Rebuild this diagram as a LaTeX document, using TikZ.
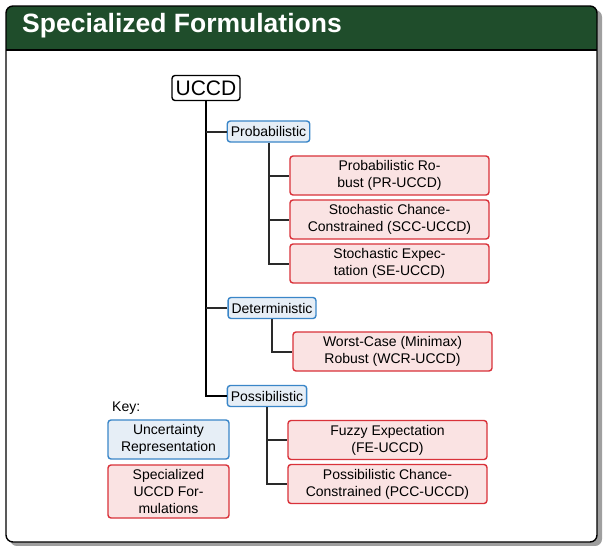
\documentclass[tikz,border=0pt]{standalone}
\usepackage{fontspec}
\setmainfont{Liberation Sans}
\definecolor{titlegreen}{HTML}{1F4D2B}
\definecolor{blueline}{HTML}{3A86C8}
\definecolor{bluefill}{HTML}{E6EEF6}
\definecolor{redline}{HTML}{D9323A}
\definecolor{redfill}{HTML}{FAE3E3}
\definecolor{linkgray}{HTML}{2A2A2A}
\begin{document}
\begin{tikzpicture}[x=1pt,y=-1pt,
  base/.style={rounded corners=3pt, line width=1.4pt, align=center, inner sep=0pt,
    font=\fontsize{14}{17}\selectfont},
  rootbox/.style={base, draw=black, fill=white, minimum width=68pt, minimum height=25pt,
    font=\fontsize{21}{22}\selectfont},
  catbox/.style={base, draw=blueline, fill=bluefill, minimum height=21pt, inner xsep=3.5pt},
  formbox/.style={base, draw=redline, fill=redfill, minimum width=199pt, minimum height=39pt},
  keyblue/.style={base, draw=blueline, fill=bluefill, minimum width=121pt, minimum height=39pt},
  keyred/.style={base, draw=redline, fill=redfill, minimum width=121pt, minimum height=53pt},
  trunk/.style={line width=2pt, draw=black},
  link/.style={line width=2pt, draw=linkgray}
]
\useasboundingbox (0,0) rectangle (605,546);
% shadow
\fill[gray!75, rounded corners=7pt] (10,10) rectangle (602,546);
% frame
\fill[white, rounded corners=7pt] (6,6) rectangle (597,542);
\fill[titlegreen, rounded corners=7pt] (6,6) rectangle (597,30);
\fill[titlegreen] (6,20) rectangle (597,50);
\draw[line width=1.2pt] (6,50) -- (597,50);
\draw[line width=1.4pt, rounded corners=7pt] (6,6) rectangle (597,542);
\node[anchor=west, inner sep=0pt, text=white, font=\fontsize{26.5}{28}\selectfont\bfseries] (title) at (22,26) {Specialized Formulations};

% nodes
\node[rootbox] (uccd) at (206,88) {UCCD};
\node[catbox] (prob) at (268.5,131.5) {Probabilistic};
\node[formbox] (pr) at (389.5,175.5) {Probabilistic Ro-\\bust (PR-UCCD)};
\node[formbox] (scc) at (389.5,219.5) {Stochastic Chance-\\Constrained (SCC-UCCD)};
\node[formbox] (se) at (389.5,263.5) {Stochastic Expec-\\tation (SE-UCCD)};
\node[catbox] (det) at (272,308) {Deterministic};
\node[formbox] (wcr) at (392.5,351.5) {Worst-Case (Minimax)\\Robust (WCR-UCCD)};
\node[catbox] (poss) at (267,396) {Possibilistic};
\node[formbox] (fe) at (387.5,440) {Fuzzy Expectation\\(FE-UCCD)};
\node[formbox] (pcc) at (387.5,484) {Possibilistic Chance-\\Constrained (PCC-UCCD)};

% key
\node[anchor=west, inner sep=0pt, font=\fontsize{14}{16}\selectfont] (key) at (112,408) {Key:};
\node[keyblue] (kblue) at (168.5,439.5) {Uncertainty\\Representation};
\node[keyred] (kred) at (168.5,491.5) {Specialized\\UCCD For-\\mulations};

% connectors
\draw[trunk] (uccd.south) |- (poss.west);
\draw[link] (uccd.south |- prob.west) -- (prob.west);
\draw[link] (uccd.south |- det.west) -- (det.west);
\draw[link] (prob.south) |- (se.west);
\draw[link] (prob.south |- pr.west) -- (pr.west);
\draw[link] (prob.south |- scc.west) -- (scc.west);
\draw[link] (det.south) |- (wcr.west);
\draw[link] (poss.south) |- (pcc.west);
\draw[link] (poss.south |- fe.west) -- (fe.west);
\end{tikzpicture}
\end{document}
